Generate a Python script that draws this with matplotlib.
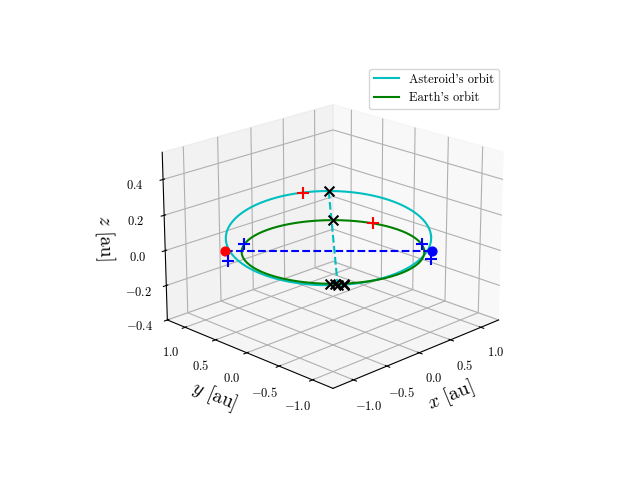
import numpy as np
import matplotlib
matplotlib.use("Agg")
import matplotlib.pyplot as plt

plt.rcParams["font.family"] = "serif"
plt.rcParams["font.serif"] = ["cmr10"]
plt.rcParams["mathtext.fontset"] = "cm"
plt.rcParams["axes.formatter.use_mathtext"] = True

# orbit shape parameters
t = np.linspace(0, 2*np.pi, 400)
earth_r = 1.0
ast_a = 1.14
ast_cu = -0.05
ast_c = 0.35
ast_inc = np.radians(3.5)

ex_dir = np.array([1, -1]) / np.sqrt(2)   # line of nodes
ey_dir = np.array([1, 1]) / np.sqrt(2)

def to_xyz(u, v, inc):
    w = v * np.cos(inc)
    z = v * np.sin(inc)
    x = u*ex_dir[0] + w*ey_dir[0]
    y = u*ex_dir[1] + w*ey_dir[1]
    return x, y, z

earth = to_xyz(earth_r*np.cos(t), earth_r*np.sin(t), 0.0)
ast = to_xyz(ast_cu + ast_a*np.cos(t), ast_c + ast_a*np.sin(t), ast_inc)

# marker positions as orbit parameters (u, v) in each plane
node_left = (-1.18, 0.0)
node_right = (1.08, 0.0)
blue_plus_ast = [(-1.14, -0.25), (1.06, -0.2)]
blue_plus_earth = [(-0.98, 0.2), (0.98, 0.2)]
red_plus_ast = [(-0.35, ast_c + 1.08)]
red_plus_earth = [(0.45, 0.89)]
black_x_ast = [(-0.05, ast_c + ast_a), (0.05, ast_c - ast_a), (0.12, ast_c - ast_a)]
black_x_earth = [(0.0, 1.0), (-0.03, -1.0), (0.02, -1.0), (0.12, -1.0)]

fig = plt.figure(figsize=(6.4, 4.8), dpi=100)
ax = fig.add_subplot(projection="3d")
ax.view_init(elev=20, azim=-135)

l1, = ax.plot(*ast, color="c", label="Asteroid's orbit")
l2, = ax.plot(*earth, color="g", label="Earth's orbit")

def pts(lst, inc):
    u = np.array([p[0] for p in lst]); v = np.array([p[1] for p in lst])
    return to_xyz(u, v, inc)

pl = to_xyz(np.array([node_left[0]]), np.array([node_left[1]]), ast_inc)
pr = to_xyz(np.array([node_right[0]]), np.array([node_right[1]]), ast_inc)
ax.plot([pl[0][0], pr[0][0]], [pl[1][0], pr[1][0]], [pl[2][0], pr[2][0]], "b--")
ax.scatter(*pl, color="r", s=40, depthshade=False)
ax.scatter(*pr, color="b", s=40, depthshade=False)

top = pts(black_x_ast[:2], ast_inc)
ax.plot(top[0], top[1], top[2], "c--")

ax.scatter(*pts(blue_plus_ast, ast_inc), marker="+", color="b", s=70, depthshade=False)
ax.scatter(*pts(blue_plus_earth, 0.0), marker="+", color="b", s=70, depthshade=False)
ax.scatter(*pts(red_plus_ast, ast_inc), marker="+", color="r", s=70, depthshade=False)
ax.scatter(*pts(red_plus_earth, 0.0), marker="+", color="r", s=70, depthshade=False)
ax.scatter(*pts(black_x_ast, ast_inc), marker="x", color="k", s=50, depthshade=False)
ax.scatter(*pts(black_x_earth, 0.0), marker="x", color="k", s=50, depthshade=False)

ax.set_xlim(-1.3, 1.3)
ax.set_ylim(-1.3, 1.3)
ax.set_zlim(-0.4, 0.55)
ax.set_xticks([-1.0, -0.5, 0.0, 0.5, 1.0])
ax.set_yticks([-1.0, -0.5, 0.0, 0.5, 1.0])
ax.set_zticks([-0.4, -0.2, 0.0, 0.2, 0.4])
ax.tick_params(labelsize=9)
ax.set_xlabel(r"$x$ [au]", fontsize=14)
ax.set_ylabel(r"$y$ [au]", fontsize=14)
ax.set_zlabel(r"$z$ [au]", fontsize=14)

fig.legend(handles=[l1, l2], loc="upper right", bbox_to_anchor=(0.79, 0.87), fontsize=9)

fig.savefig("out.png")
